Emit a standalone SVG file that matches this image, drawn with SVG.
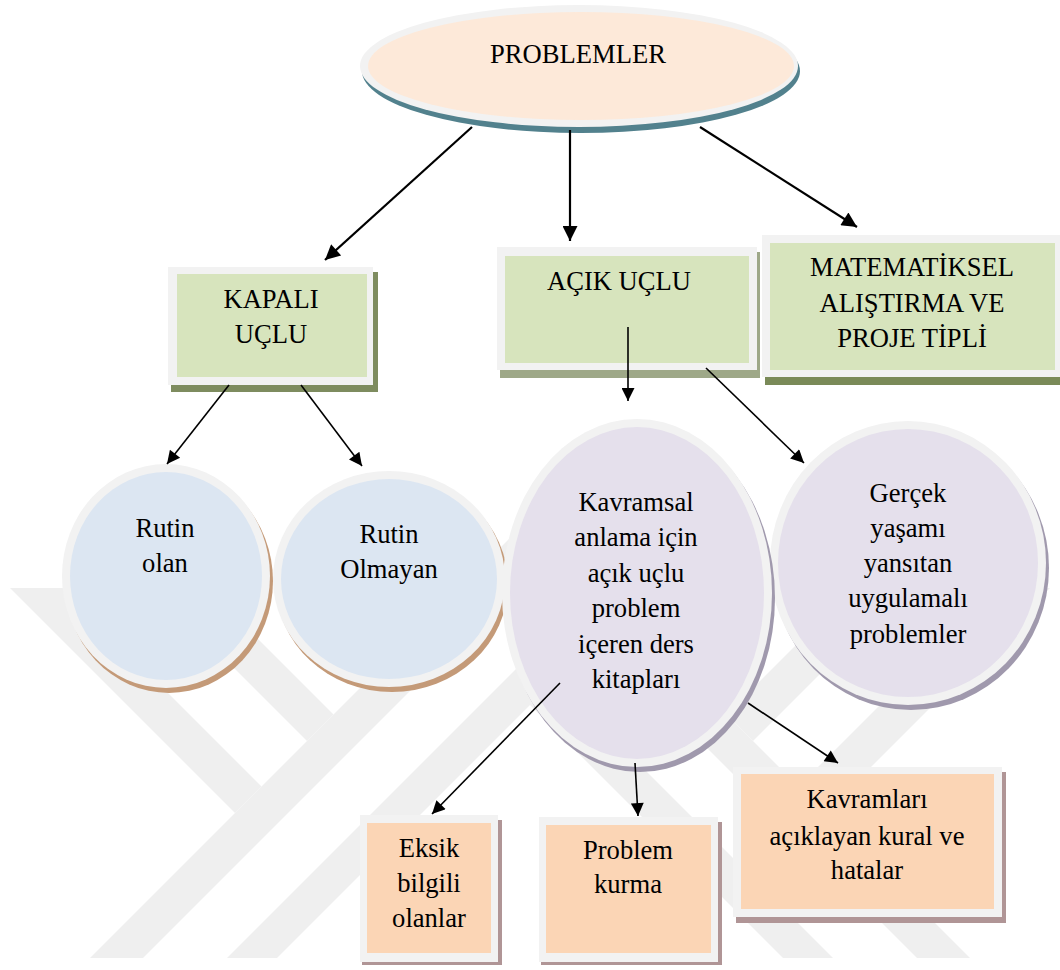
<svg xmlns="http://www.w3.org/2000/svg" width="1060" height="970" viewBox="0 0 1060 970">
  <style>
    .ring { fill: #f2f2f2; }
    .t { font-family: "Liberation Serif", "Times New Roman", serif; font-size: 26.6px; fill: #000; text-anchor: middle; }
    .wm { fill: #efefef; }
    .green { fill: #d7e4bd; }
    .blue { fill: #dce6f2; }
    .lav { fill: #e5e0ec; }
    .peach { fill: #fbd5b5; }
    .c-thick { stroke: #000; stroke-width: 2.2; fill: none; marker-end: url(#ahBig); }
    .c-thin { stroke: #000; stroke-width: 1.6; fill: none; marker-end: url(#ahSmall); }
  </style>
  <defs>
    <marker id="ahBig" viewBox="0 0 10 10" refX="10" refY="5" markerUnits="userSpaceOnUse" markerWidth="18" markerHeight="15" orient="auto">
      <path d="M0,0 L10,5 L0,10 z" fill="#000"/>
    </marker>
    <marker id="ahSmall" viewBox="0 0 10 10" refX="10" refY="5" markerUnits="userSpaceOnUse" markerWidth="16" markerHeight="13" orient="auto">
      <path d="M0,0 L10,5 L0,10 z" fill="#000"/>
    </marker>
    <!-- left half of the background emblem; the right half is its mirror -->
    <g id="wmHalf" class="wm">
      <polygon points="90,958 143,958 530,571 530,518"/>
      <polygon points="227,958 277,958 530,705 530,655"/>
      <polygon points="10,588 63,588 261.5,786.5 235,813"/>
      <polygon points="154,588 207,588 333.5,714.5 307,741"/>
    </g>
  </defs>

  <rect width="1060" height="970" fill="#fff"/>

  <!-- background emblem -->
  <g id="emblem">
    <use href="#wmHalf"/>
    <use href="#wmHalf" transform="translate(1060,0) scale(-1,1)"/>
  </g>

  <!-- root -->
  <g id="problemler">
    <ellipse cx="581" cy="71" rx="219" ry="62" fill="#52818d"/>
    <ellipse class="ring" cx="579" cy="66" rx="219" ry="61"/>
    <ellipse cx="581" cy="66" rx="213" ry="54" fill="#fde9d9"/>
    <text class="t" x="578" y="63">PROBLEMLER</text>
  </g>

  <g id="kapali-uclu">
    <rect x="171" y="272" width="207" height="120" fill="#7e8c5f"/>
    <rect class="ring" x="168" y="267" width="205" height="118"/>
    <rect class="green" x="177" y="274" width="190" height="103"/>
    <text class="t" x="271" y="308">KAPALI</text>
    <text class="t" x="271" y="343">UÇLU</text>
  </g>

  <g id="acik-uclu">
    <rect x="500" y="252" width="260" height="126" fill="#9ea888"/>
    <rect class="ring" x="497" y="247" width="260" height="123"/>
    <rect class="green" x="505" y="256" width="244" height="107"/>
    <text class="t" x="619" y="290">AÇIK UÇLU</text>
  </g>

  <g id="matematiksel">
    <rect x="765" y="240" width="300" height="145" fill="#7a8a58"/>
    <rect class="ring" x="762" y="235" width="300" height="142"/>
    <rect class="green" x="770" y="243" width="285" height="127"/>
    <text class="t" x="912" y="276">MATEMATİKSEL</text>
    <text class="t" x="912" y="312">ALIŞTIRMA VE</text>
    <text class="t" x="912" y="347">PROJE TİPLİ</text>
  </g>

  <g id="rutin-olan">
    <ellipse cx="169" cy="581" rx="104" ry="112" fill="#c49a78"/>
    <ellipse class="ring" cx="166" cy="576" rx="104" ry="112"/>
    <ellipse class="blue" cx="166" cy="576" rx="96" ry="104"/>
    <text class="t" x="165" y="537">Rutin</text>
    <text class="t" x="165" y="572">olan</text>
  </g>

  <g id="rutin-olmayan">
    <ellipse cx="392" cy="584" rx="116" ry="108" fill="#c49a78"/>
    <ellipse class="ring" cx="389" cy="579" rx="116" ry="108"/>
    <ellipse class="blue" cx="389" cy="579" rx="108" ry="100"/>
    <text class="t" x="389" y="543">Rutin</text>
    <text class="t" x="389" y="578">Olmayan</text>
  </g>

  <g id="gercek-yasam">
    <ellipse cx="911" cy="568" rx="138" ry="142" fill="#a099ad"/>
    <ellipse class="ring" cx="908" cy="563" rx="138" ry="142"/>
    <ellipse class="lav" cx="908" cy="563" rx="130" ry="134"/>
    <text class="t" x="908" y="502">Gerçek</text>
    <text class="t" x="908" y="537">yaşamı</text>
    <text class="t" x="908" y="572">yansıtan</text>
    <text class="t" x="908" y="607">uygulamalı</text>
    <text class="t" x="908" y="643">problemler</text>
  </g>

  <g id="kavramsal">
    <ellipse cx="640" cy="598" rx="135" ry="174" fill="#a099ad"/>
    <ellipse class="ring" cx="637" cy="593" rx="135" ry="174"/>
    <ellipse class="lav" cx="637" cy="593" rx="127" ry="166"/>
    <text class="t" x="636" y="511">Kavramsal</text>
    <text class="t" x="636" y="546">anlama için</text>
    <text class="t" x="636" y="582">açık uçlu</text>
    <text class="t" x="636" y="617">problem</text>
    <text class="t" x="636" y="653">içeren ders</text>
    <text class="t" x="636" y="688">kitapları</text>
  </g>

  <g id="eksik-bilgili">
    <rect x="362" y="820" width="140" height="145" fill="#b09596"/>
    <rect class="ring" x="360" y="815" width="138" height="147"/>
    <rect class="peach" x="367" y="823" width="124" height="130"/>
    <text class="t" x="429" y="857">Eksik</text>
    <text class="t" x="429" y="892">bilgili</text>
    <text class="t" x="429" y="927">olanlar</text>
  </g>

  <g id="problem-kurma">
    <rect x="541" y="822" width="181" height="143" fill="#b09596"/>
    <rect class="ring" x="539" y="817" width="179" height="145"/>
    <rect class="peach" x="546" y="825" width="165" height="128"/>
    <text class="t" x="628" y="859">Problem</text>
    <text class="t" x="628" y="893">kurma</text>
  </g>

  <g id="kavramlari">
    <rect x="736" y="772" width="270" height="151" fill="#b09596"/>
    <rect class="ring" x="733" y="767" width="269" height="150"/>
    <rect class="peach" x="741" y="774" width="253" height="135"/>
    <text class="t" x="867" y="808">Kavramları</text>
    <text class="t" x="867" y="845">açıklayan kural ve</text>
    <text class="t" x="867" y="879">hatalar</text>
  </g>

  <!-- connectors -->
  <g id="connectors">
    <path class="c-thick" d="M472,127 L325,260"/>
    <path class="c-thick" d="M570,130 L570,241"/>
    <path class="c-thick" d="M700,127 L857,227"/>
    <path class="c-thin" d="M229,385 L167,464"/>
    <path class="c-thin" d="M301,385 L362,466"/>
    <path class="c-thin" d="M628,327 L628,401"/>
    <path class="c-thin" d="M706,368 L804,463"/>
    <path class="c-thin" d="M560,683 L432,814"/>
    <path class="c-thin" d="M635,763 L638,816"/>
    <path class="c-thin" d="M748,703 L838,763"/>
  </g>
</svg>
